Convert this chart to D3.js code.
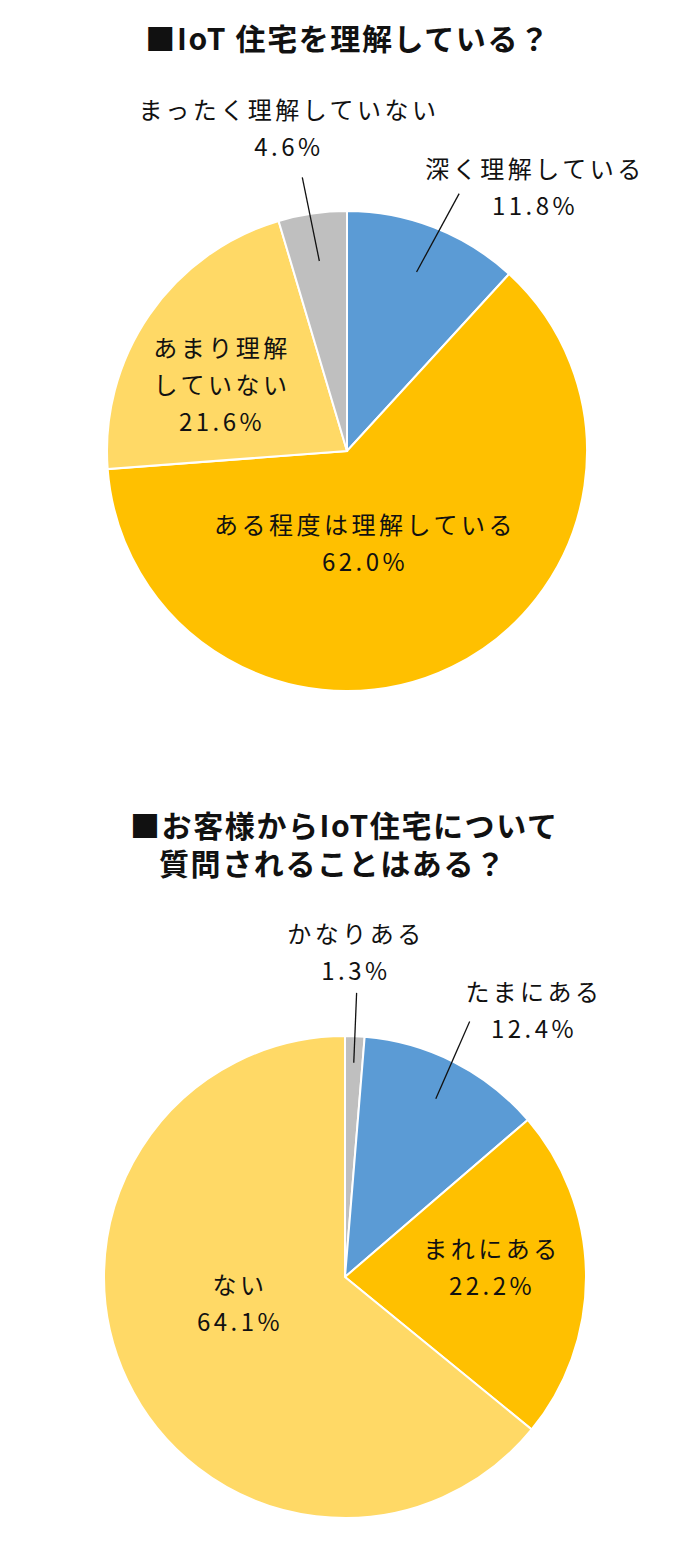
<!DOCTYPE html>
<html>
<head>
<meta charset="utf-8">
<script src="https://cdn.jsdelivr.net/npm/d3@7"></script>
<style>
  body { margin: 0; background: #fff; }
  text { font-family: "Noto Sans CJK JP", "Noto Sans", sans-serif; fill: #111; }
</style>
</head>
<body>
<svg id="chart" width="700" height="1544"></svg>
<script>
// chart 1 data
const c1Title = ["■IoT 住宅を理解している？"];
const c1Labels = ["深く理解している", "ある程度は理解している", "あまり理解|していない", "まったく理解していない"];
const c1Values = [11.8, 62.0, 21.6, 4.6];

// chart 2 data
const c2Title = ["■お客様からIoT住宅について", "質問されることはある？"];
const c2Labels = ["かなりある", "たまにある", "まれにある", "ない"];
const c2Values = [1.3, 12.4, 22.2, 64.1];

const blue = "#5B9BD5", gold = "#FFC000", light = "#FFD966", gray = "#BFBFBF";

// layout for each chart (label offsets are relative to pie centre)
const charts = [
  {
    title: c1Title, labels: c1Labels, values: c1Values,
    colors: [blue, gold, light, gray],
    cx: 347, cy: 451, r: 240,
    titleX: [348], titleY: 50, titleAnchor: "middle",
    labelPos: [[188, -273], [18, 83], [-125, -94], [-58, -332]],
    leaders: { 0: [0.8, 1.17, 2.3], 3: [0.8, 1.155, -1] }
  },
  {
    title: c2Title, labels: c2Labels, values: c2Values,
    colors: [gray, blue, gold, light],
    cx: 345, cy: 1277, r: 241,
    titleX: [130, 159], titleY: 837, titleAnchor: "start",
    labelPos: [[11, -334], [189, -276], [147, -19], [-105, 17]],
    leaders: { 0: [0.89, 1.18, 0], 1: [0.83, 1.18, -1] }
  }
];

const svg = d3.select("#chart");
const fmt = d3.format(".1f");
const lineH = 37;

charts.forEach(c => {
  // title
  c.title.forEach((t, i) => {
    svg.append("text")
      .attr("x", c.titleX[i])
      .attr("y", c.titleY + i * 38)
      .attr("text-anchor", c.titleAnchor)
      .attr("font-size", 30)
      .attr("font-weight", 700)
      .attr("letter-spacing", 1.6)
      .text(t);
  });

  const g = svg.append("g").attr("transform", `translate(${c.cx},${c.cy})`);

  const pie = d3.pie().sort(null).value(d => d);
  const arcs = pie(c.values);
  const arc = d3.arc().innerRadius(0).outerRadius(c.r);

  g.selectAll("path")
    .data(arcs)
    .enter().append("path")
    .attr("d", arc)
    .attr("fill", (d, i) => c.colors[i])
    .attr("stroke", "#fff")
    .attr("stroke-width", 2);

  // leader lines
  Object.entries(c.leaders).forEach(([i, [k0, k1, shift]]) => {
    const d = arcs[i];
    const a = (d.startAngle + d.endAngle) / 2;
    const a1 = a + shift * Math.PI / 180;
    g.append("line")
      .attr("x1", Math.sin(a) * c.r * k0)
      .attr("y1", -Math.cos(a) * c.r * k0)
      .attr("x2", Math.sin(a1) * c.r * k1)
      .attr("y2", -Math.cos(a1) * c.r * k1)
      .attr("stroke", "#111")
      .attr("stroke-width", 1.3);
  });

  // labels
  arcs.forEach((d, i) => {
    const lines = c.labels[i].split("|").concat([fmt(c.values[i]) + "%"]);
    const [dx, dy] = c.labelPos[i];
    const t = g.append("text")
      .attr("text-anchor", "middle")
      .attr("font-size", 24)
      .attr("letter-spacing", 3.5);
    lines.forEach((s, j) => {
      t.append("tspan")
        .attr("x", dx)
        .attr("y", dy + j * lineH)
        .text(s);
    });
  });
});
</script>
</body>
</html>
